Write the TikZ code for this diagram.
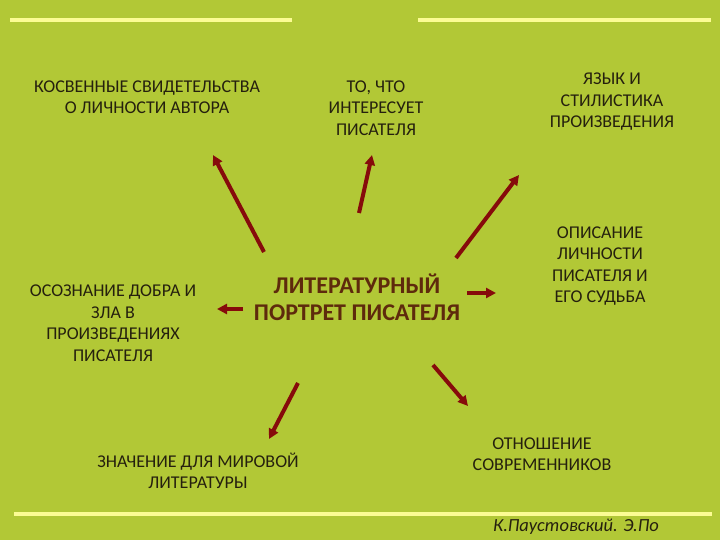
\documentclass[tikz,border=0pt]{standalone}
\usepackage{fontspec}
\setmainfont{Carlito}
\usepackage{xcolor}
\usepackage{tikz}
\usetikzlibrary{arrows,arrows.meta,calc}
\definecolor{bggreen}{HTML}{B2C836}
\definecolor{baryellow}{HTML}{FCFC94}
\definecolor{arrowred}{HTML}{860B0B}
\definecolor{titlebrown}{HTML}{5E2A0C}
\definecolor{textdark}{HTML}{25200E}
\tikzset{mainbox/.style={text=titlebrown, align=center, font=\bfseries\fontsize{24}{27}\selectfont}}
\tikzset{topicbox/.style={text=textdark, align=center, font=\fontsize{18}{21.5}\selectfont}}
\tikzset{bar/.style={draw=baryellow, line width=4.5pt}}
\tikzset{line/.style={draw=arrowred, line width=4pt, -{Triangle[length=10pt,width=10pt]}}}

\begin{document}
\begin{tikzpicture}[x=1pt, y=-1pt]
		\useasboundingbox (0,0) rectangle (720,540);
		\fill [bggreen] (0,0) rectangle (720,540);
		
		% yellow bars
		\path [bar] (10,20) -- (292,20);
		\path [bar] (418,20) -- (711,20);
		\path [bar] (14,514) -- (712,514);
		
		\node [mainbox] (portret) at (357,297) {ЛИТЕРАТУРНЫЙ\\ПОРТРЕТ ПИСАТЕЛЯ};
		
		\node [topicbox] (kosv) at (147,97) {КОСВЕННЫЕ СВИДЕТЕЛЬСТВА\\О ЛИЧНОСТИ АВТОРА};
		\node [topicbox] (interes) at (376,108) {ТО, ЧТО\\ИНТЕРЕСУЕТ\\ПИСАТЕЛЯ};
		\node [topicbox] (yazyk) at (612,102) {ЯЗЫК И\\СТИЛИСТИКА\\ПРОИЗВЕДЕНИЯ};
		\node [topicbox] (opisanie) at (600,266) {ОПИСАНИЕ\\ЛИЧНОСТИ\\ПИСАТЕЛЯ И\\ЕГО СУДЬБА};
		\node [topicbox] (dobro) at (113,323) {ОСОЗНАНИЕ ДОБРА И\\ЗЛА В\\ПРОИЗВЕДЕНИЯХ\\ПИСАТЕЛЯ};
		\node [topicbox] (znachenie) at (198,471) {ЗНАЧЕНИЕ ДЛЯ МИРОВОЙ\\ЛИТЕРАТУРЫ};
		\node [topicbox] (otnoshenie) at (542,454) {ОТНОШЕНИЕ\\СОВРЕМЕННИКОВ};
		
		\node [text=textdark, font=\itshape\fontsize{18.5}{20}\selectfont] (avtory) at (576,527) {К.Паустовский. Э.По};
		
		%arrow ends
		\coordinate (kosv_t) at (264,252);
		\coordinate (kosv_h) at (213,155);
		\coordinate (interes_t) at (359,213);
		\coordinate (interes_h) at (372,155);
		\coordinate (yazyk_t) at (456,258);
		\coordinate (yazyk_h) at (519,175);
		\coordinate (opisanie_t) at (467,293);
		\coordinate (opisanie_h) at (496,293);
		\coordinate (dobro_t) at (243,309);
		\coordinate (dobro_h) at (217,309);
		\coordinate (znachenie_t) at (298,383);
		\coordinate (znachenie_h) at (269,439);
		\coordinate (otnoshenie_t) at (433,365);
		\coordinate (otnoshenie_h) at (468,406);
		
		\path [line] (kosv_t) -- (kosv_h);
		\path [line] (interes_t) -- (interes_h);
		\path [line] (yazyk_t) -- (yazyk_h);
		\path [line] (opisanie_t) -- (opisanie_h);
		\path [line] (dobro_t) -- (dobro_h);
		\path [line] (znachenie_t) -- (znachenie_h);
		\path [line] (otnoshenie_t) -- (otnoshenie_h);
		
		\end{tikzpicture}
\end{document}
